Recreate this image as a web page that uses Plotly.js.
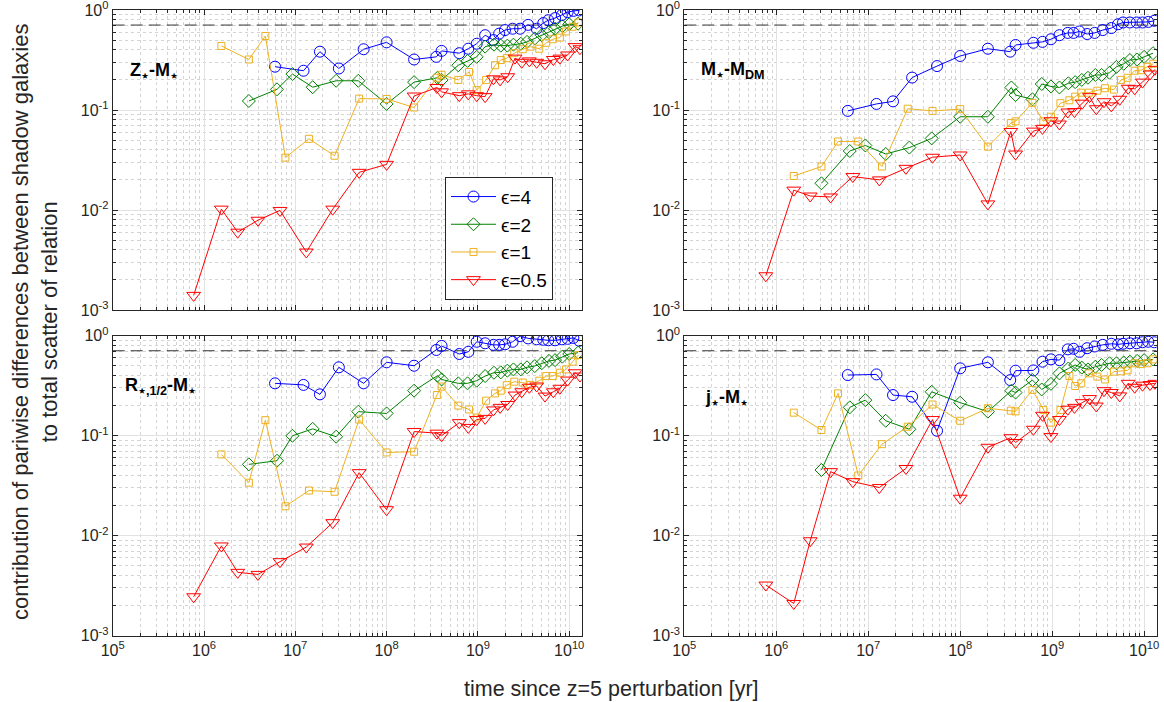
<!DOCTYPE html>
<html>
<head>
<meta charset="utf-8">
<script src="https://cdn.plot.ly/plotly-3.0.1.min.js"></script>
<style>html,body{margin:0;padding:0;background:#fff;}#chart{width:1164px;height:702px;}</style>
</head>
<body>
<div id="chart"></div>
<script>
// ---- times since perturbation [yr], one grid per epsilon ----
const T_EPS4  = [6.0e6, 1.23e7, 1.86e7, 3.0e7, 5.6e7, 1.0e8, 2.0e8, 3.5e8, 4.0e8, 6.25e8, 7.85e8, 9.7e8, 1.2e9, 1.48e9, 1.71e9, 1.98e9, 2.4e9, 2.9e9, 3.55e9, 4.4e9, 5.2e9, 5.9e9, 7.0e9, 8.3e9, 9.6e9, 1.11e10, 1.29e10];
const T_EPS2  = [3.1e6, 6.3e6, 9.3e6, 1.55e7, 2.8e7, 4.9e7, 1.0e8, 2.0e8, 3.6e8, 4.0e8, 6.1e8, 7.7e8, 9.7e8, 1.2e9, 1.5e9, 1.78e9, 2.1e9, 2.45e9, 2.95e9, 3.45e9, 4.2e9, 5.0e9, 6.0e9, 7.0e9, 8.4e9, 1.0e10, 1.25e10];
const T_EPS1  = [1.55e6, 3.1e6, 4.7e6, 7.8e6, 1.41e7, 2.69e7, 5.0e7, 1.0e8, 2.0e8, 3.55e8, 4.0e8, 6.1e8, 8.0e8, 9.7e8, 1.23e9, 1.54e9, 1.78e9, 2.07e9, 2.5e9, 3.1e9, 3.76e9, 4.7e9, 5.6e9, 6.6e9, 7.9e9, 9.2e9, 1.09e10, 1.26e10];
const T_EPS05 = [7.7e5, 1.55e6, 2.34e6, 3.9e6, 6.8e6, 1.32e7, 2.57e7, 5.0e7, 1.0e8, 2.0e8, 3.55e8, 4.0e8, 6.25e8, 7.85e8, 9.7e8, 1.2e9, 1.48e9, 1.75e9, 2.12e9, 2.55e9, 3.02e9, 3.66e9, 4.4e9, 5.43e9, 6.7e9, 7.9e9, 9.6e9, 1.16e10, 1.31e10];

// ---- Z*-M* ----
const ZM_EPS4  = [0.271, 0.247, 0.383, 0.26, 0.405, 0.475, 0.32, 0.34, 0.39, 0.37, 0.41, 0.46, 0.56, 0.50, 0.58, 0.63, 0.65, 0.65, 0.71, 0.65, 0.74, 0.79, 0.83, 0.89, 0.95, 0.98, 0.99];
const ZM_EPS2  = [0.123, 0.161, 0.229, 0.169, 0.196, 0.196, 0.115, 0.19, 0.21, 0.20, 0.28, 0.31, 0.34, 0.43, 0.45, 0.44, 0.44, 0.45, 0.46, 0.48, 0.52, 0.56, 0.60, 0.65, 0.69, 0.72, 0.73];
const ZM_EPS1  = [0.437, 0.32, 0.55, 0.0334, 0.0515, 0.0349, 0.130, 0.129, 0.106, 0.21, 0.225, 0.2, 0.24, 0.158, 0.2, 0.28, 0.316, 0.33, 0.37, 0.405, 0.43, 0.41, 0.47, 0.51, 0.53, 0.61, 0.68, 0.75];
const ZM_EPS05 = [0.0014, 0.0102, 0.006, 0.0079, 0.0099, 0.0038, 0.0102, 0.0238, 0.0286, 0.138, 0.168, 0.152, 0.139, 0.145, 0.139, 0.136, 0.205, 0.2, 0.215, 0.33, 0.30, 0.31, 0.30, 0.29, 0.32, 0.33, 0.355, 0.43, 0.41];

// ---- M*-M_DM ----
const MM_EPS4  = [0.098, 0.115, 0.122, 0.211, 0.275, 0.347, 0.41, 0.383, 0.447, 0.47, 0.48, 0.51, 0.56, 0.59, 0.59, 0.61, 0.575, 0.59, 0.63, 0.66, 0.72, 0.75, 0.75, 0.75, 0.75, 0.76, 0.78];
const MM_EPS2  = [0.0185, 0.0389, 0.0442, 0.0363, 0.0421, 0.052, 0.0856, 0.0856, 0.168, 0.141, 0.128, 0.182, 0.172, 0.168, 0.185, 0.19, 0.2, 0.21, 0.224, 0.224, 0.236, 0.27, 0.29, 0.316, 0.32, 0.34, 0.37];
const MM_EPS1  = [0.0219, 0.0272, 0.0484, 0.0484, 0.0272, 0.103, 0.098, 0.102, 0.043, 0.074, 0.077, 0.118, 0.077, 0.0856, 0.117, 0.125, 0.136, 0.149, 0.149, 0.156, 0.165, 0.16, 0.2, 0.21, 0.247, 0.25, 0.27, 0.29];
const MM_EPS05 = [0.0022, 0.0158, 0.0138, 0.0135, 0.0216, 0.02, 0.0261, 0.0337, 0.0355, 0.0115, 0.061, 0.0363, 0.0615, 0.0655, 0.078, 0.0724, 0.0955, 0.0965, 0.117, 0.136, 0.103, 0.121, 0.11, 0.128, 0.165, 0.163, 0.19, 0.229, 0.255];

// ---- R*,1/2-M* ----
const RM_EPS4  = [0.334, 0.322, 0.259, 0.483, 0.334, 0.542, 0.501, 0.72, 0.79, 0.656, 0.69, 0.87, 0.84, 0.81, 0.81, 0.82, 0.87, 0.99, 0.94, 0.92, 0.91, 0.90, 0.90, 0.92, 0.93, 0.95, 0.89];
const RM_EPS2  = [0.0517, 0.0562, 0.0998, 0.117, 0.0977, 0.174, 0.167, 0.282, 0.398, 0.365, 0.334, 0.334, 0.355, 0.395, 0.426, 0.43, 0.447, 0.46, 0.46, 0.483, 0.497, 0.53, 0.56, 0.57, 0.617, 0.656, 0.676];
const RM_EPS1  = [0.065, 0.0339, 0.143, 0.0197, 0.0283, 0.0275, 0.145, 0.068, 0.0692, 0.255, 0.31, 0.2, 0.183, 0.152, 0.224, 0.265, 0.282, 0.32, 0.347, 0.34, 0.322, 0.355, 0.395, 0.395, 0.426, 0.46, 0.55, 0.64];
const RM_EPS05 = [0.00245, 0.0079, 0.0043, 0.0041, 0.0055, 0.0077, 0.0135, 0.0427, 0.0182, 0.11, 0.106, 0.1, 0.135, 0.121, 0.145, 0.149, 0.181, 0.192, 0.205, 0.255, 0.275, 0.305, 0.314, 0.249, 0.275, 0.298, 0.36, 0.426, 0.395];

// ---- j*-M* ----
const JM_EPS4  = [0.404, 0.41, 0.255, 0.245, 0.112, 0.472, 0.542, 0.36, 0.447, 0.45, 0.55, 0.58, 0.57, 0.73, 0.74, 0.69, 0.75, 0.78, 0.81, 0.83, 0.82, 0.83, 0.84, 0.84, 0.86, 0.87, 0.86];
const JM_EPS2  = [0.0454, 0.192, 0.227, 0.141, 0.116, 0.275, 0.214, 0.174, 0.282, 0.27, 0.36, 0.29, 0.33, 0.42, 0.47, 0.51, 0.48, 0.46, 0.49, 0.51, 0.53, 0.53, 0.54, 0.55, 0.56, 0.57, 0.58];
const JM_EPS1  = [0.17, 0.114, 0.265, 0.04, 0.0823, 0.123, 0.205, 0.141, 0.188, 0.178, 0.175, 0.287, 0.181, 0.135, 0.181, 0.395, 0.314, 0.334, 0.42, 0.39, 0.365, 0.437, 0.44, 0.45, 0.53, 0.52, 0.53, 0.58];
const JM_EPS05 = [0.00321, 0.0021, 0.0089, 0.0437, 0.0347, 0.0303, 0.047, 0.145, 0.0237, 0.0766, 0.0955, 0.0855, 0.116, 0.16, 0.098, 0.145, 0.184, 0.192, 0.214, 0.235, 0.198, 0.282, 0.27, 0.25, 0.334, 0.305, 0.32, 0.325, 0.334];

const SERIES_NAMES = ['ϵ=4', 'ϵ=2', 'ϵ=1', 'ϵ=0.5'];
const PANEL_LABELS = ['<b>Z<sub>⋆</sub>-M<sub>⋆</sub></b>', '<b>M<sub>⋆</sub>-M<sub>DM</sub></b>', '<b>R<sub>⋆,1/2</sub>-M<sub>⋆</sub></b>', '<b>j<sub>⋆</sub>-M<sub>⋆</sub></b>'];
const SATURATION_LEVEL = 0.707;
const X_LIMITS = [1e5, 1.37e10];
const Y_TICKS = [1e-3, 1e-2, 1e-1, 1];
const Y_TICK_TEXT = ['10<sup>-3</sup>', '10<sup>-2</sup>', '10<sup>-1</sup>', '10<sup>0</sup>'];
const X_TICKS = [1e5, 1e6, 1e7, 1e8, 1e9, 1e10];
const X_TICK_TEXT = ['10<sup>5</sup>', '10<sup>6</sup>', '10<sup>7</sup>', '10<sup>8</sup>', '10<sup>9</sup>', '10<sup>10</sup>'];

const TIMES = [T_EPS4, T_EPS2, T_EPS1, T_EPS05];
const PANELS = [
  [ZM_EPS4, ZM_EPS2, ZM_EPS1, ZM_EPS05],
  [MM_EPS4, MM_EPS2, MM_EPS1, MM_EPS05],
  [RM_EPS4, RM_EPS2, RM_EPS1, RM_EPS05],
  [JM_EPS4, JM_EPS2, JM_EPS1, JM_EPS05]
];

const STYLES = [
  {color: '#0000FF', symbol: 'circle-open', size: 11},
  {color: '#008000', symbol: 'diamond-open', size: 10},
  {color: '#EDB120', symbol: 'square-open', size: 7},
  {color: '#FF0000', symbol: 'triangle-down-open', size: 12}
];

const FONT = 'Liberation Sans, Arial, Helvetica, sans-serif';
const W = 1164, H = 702;
const xDomL = [112.7 / W, 581.7 / W];
const xDomR = [684.3 / W, 1156.7 / W];
const yDomT = [(H - 310) / H, (H - 10) / H];
const yDomB = [(H - 635.7) / H, (H - 335.7) / H];
const domains = [[xDomL, yDomT], [xDomR, yDomT], [xDomL, yDomB], [xDomR, yDomB]];

const traces = [];
PANELS.forEach((panel, p) => {
  const xa = p === 0 ? 'x' : 'x' + (p + 1);
  const ya = p === 0 ? 'y' : 'y' + (p + 1);
  traces.push({
    x: X_LIMITS, y: [SATURATION_LEVEL, SATURATION_LEVEL],
    xaxis: xa, yaxis: ya, mode: 'lines', showlegend: false, hoverinfo: 'skip',
    line: {color: '#333333', width: 1, dash: '12px,6px'}
  });
  panel.forEach((vals, s) => {
    traces.push({
      x: TIMES[s], y: vals, xaxis: xa, yaxis: ya,
      mode: 'lines+markers', name: SERIES_NAMES[s],
      showlegend: p === 0, legendgroup: 'g' + s,
      line: {color: STYLES[s].color, width: 1},
      marker: {symbol: STYLES[s].symbol, size: STYLES[s].size, color: STYLES[s].color,
               line: {color: STYLES[s].color, width: 1}}
    });
  });
});

const axisBase = {
  type: 'log', showline: true, linecolor: '#262626', linewidth: 1, mirror: 'ticks',
  ticks: 'inside', ticklen: 5, tickcolor: '#262626', tickwidth: 1,
  showgrid: true, gridcolor: '#e2e2e2', gridwidth: 1, zeroline: false,
  ticklabeloverflow: 'allow',
  tickfont: {family: FONT, size: 16, color: '#262626'},
  minor: {dtick: 'D1', ticks: 'inside', ticklen: 3, tickcolor: '#262626', showgrid: true, gridcolor: '#d4d4d4', griddash: 'dot', gridwidth: 1}
};

const layout = {
  width: W, height: H, autosize: false,
  margin: {l: 0, r: 0, t: 0, b: 0},
  paper_bgcolor: '#ffffff', plot_bgcolor: '#ffffff',
  font: {family: FONT, color: '#262626'},
  showlegend: true,
  legend: {
    x: 445 / W, y: (H - 176.7) / H, xanchor: 'left', yanchor: 'top',
    bgcolor: '#ffffff', bordercolor: '#262626', borderwidth: 1,
    font: {family: FONT, size: 19, color: '#000000'},
    itemwidth: 45, tracegroupgap: 0
  },
  annotations: [],
  hovermode: false
};

domains.forEach((d, p) => {
  const sx = p === 0 ? '' : String(p + 1);
  layout['xaxis' + sx] = Object.assign({}, axisBase, {
    domain: d[0], anchor: 'y' + sx, range: [Math.log10(X_LIMITS[0]), Math.log10(X_LIMITS[1])],
    tickvals: X_TICKS, ticktext: X_TICK_TEXT, showticklabels: p >= 2
  });
  layout['yaxis' + sx] = Object.assign({}, axisBase, {
    domain: d[1], anchor: 'x' + sx, range: [-3, 0],
    tickvals: Y_TICKS, ticktext: Y_TICK_TEXT, showticklabels: true
  });
});

const labelPos = [[128, 71], [699, 70], [123, 386], [703, 398]];
PANEL_LABELS.forEach((t, i) => {
  layout.annotations.push({
    text: t, xref: 'paper', yref: 'paper', x: labelPos[i][0] / W, y: (H - labelPos[i][1]) / H,
    xanchor: 'left', yanchor: 'middle', showarrow: false,
    font: {family: FONT, size: 18, color: '#000000'}
  });
});

layout.annotations.push({
  text: 'contribution of pariwise differences between shadow galaxies<br>to total scatter of relation',
  xref: 'paper', yref: 'paper', x: 35 / W, y: (H - 322) / H, textangle: -90,
  xanchor: 'center', yanchor: 'middle', showarrow: false,
  font: {family: FONT, size: 22, color: '#262626'}
});
layout.annotations.push({
  text: 'time since z=5 perturbation [yr]',
  xref: 'paper', yref: 'paper', x: 611 / W, y: (H - 689) / H,
  xanchor: 'center', yanchor: 'middle', showarrow: false,
  font: {family: FONT, size: 21.5, color: '#262626'}
});

Plotly.newPlot('chart', traces, layout, {displayModeBar: false, staticPlot: true});
</script>
</body>
</html>
